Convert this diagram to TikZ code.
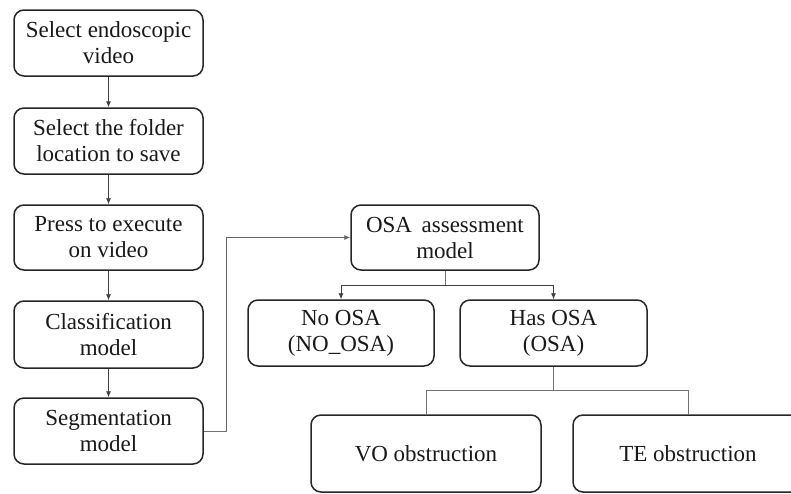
\documentclass[tikz,border=0pt]{standalone}
\usepackage{fontspec}
\setmainfont{Liberation Serif}
\usetikzlibrary{arrows.meta}
\begin{document}
\begin{tikzpicture}[x=1pt,y=-1pt,
  box/.style={draw=black!85, line width=1.5pt, rounded corners=10pt, align=center,
    inner sep=0pt, font=\fontsize{23}{26}\selectfont, text=black!90},
  conn/.style={draw=black!75, line width=0.8pt, -{Latex[length=6pt,width=5pt]}},
  plain/.style={draw=black!55, line width=0.8pt}]
\useasboundingbox (0,0) rectangle (791,493);
\clip (0,0) rectangle (791,493);
\node[box, minimum width=189pt, minimum height=66pt] (b1) at (108.5,43) {Select endoscopic\\video};
\node[box, minimum width=189pt, minimum height=66pt] (b2) at (108.5,141) {Select the folder\\location to save};
\node[box, minimum width=189pt, minimum height=65pt] (b3) at (108.5,237.5) {Press to execute\\on video};
\node[box, minimum width=189pt, minimum height=67pt] (b4) at (108.5,334.5) {Classification\\model};
\node[box, minimum width=189pt, minimum height=66pt] (b5) at (108.5,431) {Segmentation\\model};
\node[box, minimum width=188pt, minimum height=65pt] (osa) at (445,237.5) {OSA\, assessment\\model};
\node[box, minimum width=186pt, minimum height=66pt] (no) at (341,333) {No OSA\\(NO\_OSA)};
\node[box, minimum width=187pt, minimum height=66pt] (has) at (553.5,333) {Has OSA\\(OSA)};
\node[box, minimum width=230pt, minimum height=77pt] (vo) at (426,453.5) {VO obstruction};
\node[box, minimum width=230pt, minimum height=77pt] (te) at (688,453.5) {TE obstruction};
\draw[conn] (b1) -- (b2);
\draw[conn] (b2) -- (b3);
\draw[conn] (b3) -- (b4);
\draw[conn] (b4) -- (b5);
\draw[plain] (b5.east) -- ++(23,0) coordinate (c1);
\draw[conn, draw=black!60] (c1) |- (osa.west);
\draw[plain] (osa.south) -- ++(0,15) coordinate (c2);
\draw[conn] (c2) -| (no.north);
\draw[conn] (c2) -| (has.north);
\draw[plain] (has.south) -- ++(0,24) coordinate (c3);
\draw[plain] (c3) -| (vo.north);
\draw[plain] (c3) -| (te.north);
\end{tikzpicture}
\end{document}
